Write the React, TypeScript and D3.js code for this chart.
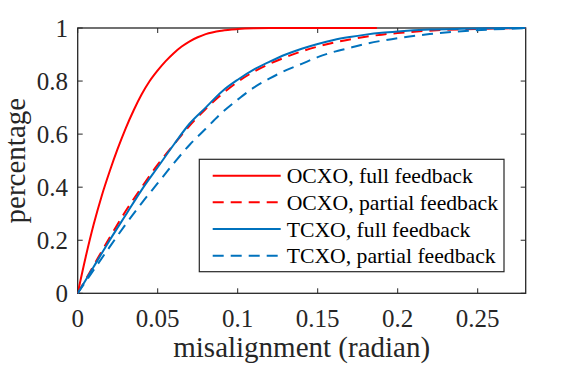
import React from "react";
import * as d3 from "d3";

const xTicks = [0, 0.05, 0.1, 0.15, 0.2, 0.25];
const xTickLabels = ["0", "0.05", "0.1", "0.15", "0.2", "0.25"];
const yTicks = [0, 0.2, 0.4, 0.6, 0.8, 1];
const yTickLabels = ["0", "0.2", "0.4", "0.6", "0.8", "1"];

const ocxoFullX = [0, 0.005, 0.01, 0.015, 0.02, 0.025, 0.03, 0.035, 0.04, 0.045, 0.05, 0.055, 0.06, 0.065, 0.07, 0.075, 0.08, 0.09, 0.1, 0.11, 0.12, 0.187];
const ocxoFullY = [0, 0.137, 0.26, 0.367, 0.46, 0.545, 0.622, 0.69, 0.75, 0.8, 0.84, 0.875, 0.905, 0.93, 0.95, 0.965, 0.977, 0.99, 0.996, 0.999, 1, 1];

const gridX = [0, 0.01, 0.02, 0.03, 0.04, 0.05, 0.06, 0.07, 0.08, 0.09, 0.1, 0.11, 0.12, 0.13, 0.14, 0.15, 0.16, 0.17, 0.18, 0.19, 0.2, 0.22, 0.24, 0.26, 0.28];
const ocxoPartialY = [0, 0.105, 0.21, 0.31, 0.4, 0.485, 0.56, 0.632, 0.695, 0.75, 0.797, 0.835, 0.865, 0.89, 0.912, 0.93, 0.945, 0.957, 0.967, 0.975, 0.981, 0.99, 0.995, 0.998, 1.0];
const tcxoFullY = [0, 0.1, 0.2, 0.295, 0.39, 0.475, 0.56, 0.64, 0.7, 0.76, 0.805, 0.843, 0.873, 0.9, 0.922, 0.94, 0.955, 0.966, 0.975, 0.982, 0.987, 0.994, 0.997, 0.999, 1.0];
const tcxoPartialY = [0, 0.088, 0.175, 0.26, 0.34, 0.415, 0.49, 0.56, 0.62, 0.68, 0.73, 0.775, 0.81, 0.84, 0.865, 0.89, 0.91, 0.925, 0.94, 0.952, 0.962, 0.977, 0.988, 0.995, 0.999];

const seriesNames = ["OCXO, full feedback", "OCXO, partial feedback", "TCXO, full feedback", "TCXO, partial feedback"];
const xLabel = "misalignment (radian)";
const yLabel = "percentage";

const RED = "#ff0000";
const BLUE = "#0072bd";
const AX = "#262626";
const FONT = '"Liberation Serif", "Times New Roman", Times, serif';

export default function App() {
  const left = 77.7, right = 525.7, top = 28, bottom = 293.3;
  const x = d3.scaleLinear().domain([0, 0.28]).range([left, right]);
  const y = d3.scaleLinear().domain([0, 1]).range([bottom, top]);

  const line = d3
    .line<[number, number]>()
    .x((d) => x(d[0]))
    .y((d) => y(d[1]))
    .curve(d3.curveMonotoneX);

  const series = [
    { xs: ocxoFullX, ys: ocxoFullY, color: RED, dash: undefined },
    { xs: gridX, ys: ocxoPartialY, color: RED, dash: "11,7" },
    { xs: gridX, ys: tcxoFullY, color: BLUE, dash: undefined },
    { xs: gridX, ys: tcxoPartialY, color: BLUE, dash: "11,7" },
  ];

  const tickLen = 5;
  const legX = 199.3, legY = 159.3, legW = 304.7, legH = 112.4;
  const rowY = [175.7, 202.3, 229, 255.7];
  const tf = { fontFamily: FONT };

  return (
    <svg width={581} height={365} style={{ position: "absolute", left: 0, top: 0, background: "#fff", fontFamily: FONT }}>
      <defs>
        <clipPath id="plotclip">
          <rect x={left} y={top - 2} width={right - left} height={bottom - top + 4} />
        </clipPath>
      </defs>
      <rect x={0} y={0} width={581} height={365} fill="#fff" />
      {xTicks.map((t, i) => (
        <g key={"xt" + i}>
          <line x1={x(t)} x2={x(t)} y1={bottom} y2={bottom - tickLen} stroke={AX} strokeWidth={1} />
          <line x1={x(t)} x2={x(t)} y1={top} y2={top + tickLen} stroke={AX} strokeWidth={1} />
          <text x={x(t)} y={327} textAnchor="middle" fontSize={25} fill={AX} style={tf}>
            {xTickLabels[i]}
          </text>
        </g>
      ))}
      {yTicks.map((t, i) => (
        <g key={"yt" + i}>
          <line x1={left} x2={left + tickLen} y1={y(t)} y2={y(t)} stroke={AX} strokeWidth={1} />
          <line x1={right} x2={right - tickLen} y1={y(t)} y2={y(t)} stroke={AX} strokeWidth={1} />
          <text x={68} y={y(t) + 8.6} textAnchor="end" fontSize={25} fill={AX} style={tf}>
            {yTickLabels[i]}
          </text>
        </g>
      ))}
      <rect x={left} y={top} width={right - left} height={bottom - top} fill="none" stroke={AX} strokeWidth={1.3} />
      <g clipPath="url(#plotclip)">
        {series.map((s, i) => (
          <path
            key={"s" + i}
            d={line(s.xs.map((v, j) => [v, s.ys[j]] as [number, number])) || ""}
            fill="none"
            stroke={s.color}
            strokeWidth={2}
            strokeDasharray={s.dash}
          />
        ))}
      </g>
      <text x={(left + right) / 2} y={357} textAnchor="middle" fontSize={29} fill={AX} style={tf}>
        {xLabel}
      </text>
      <text transform={`translate(25, ${(top + bottom) / 2}) rotate(-90)`} textAnchor="middle" fontSize={29} fill={AX} style={tf}>
        {yLabel}
      </text>
      <rect x={legX} y={legY} width={legW} height={legH} fill="#fff" stroke={AX} strokeWidth={1.2} />
      {series.map((s, i) => (
        <g key={"lg" + i}>
          <line x1={212.7} x2={280.7} y1={rowY[i]} y2={rowY[i]} stroke={s.color} strokeWidth={2} strokeDasharray={s.dash} />
          <text x={286.7} y={rowY[i] + 7.5} fontSize={21.7} fill="#000" style={tf}>
            {seriesNames[i]}
          </text>
        </g>
      ))}
    </svg>
  );
}
